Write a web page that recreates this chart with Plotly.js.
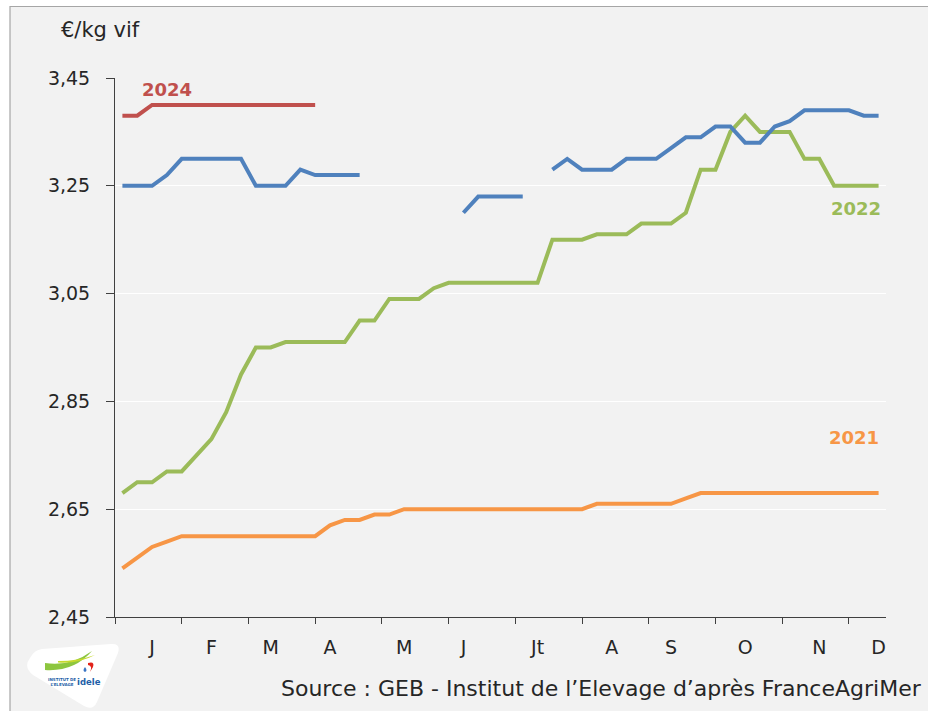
<!DOCTYPE html>
<html>
<head>
<meta charset="utf-8">
<script src="https://cdn.plot.ly/plotly-3.0.1.min.js"></script>
<style>
  html, body { margin: 0; padding: 0; background: #ffffff; }
  #chart { width: 928px; height: 711px; }
</style>
</head>
<body>
<div id="chart"></div>
<script>
// ---- data ----
const weeks = [1,2,3,4,5,6,7,8,9,10,11,12,13,14,15,16,17,18,19,20,21,22,23,24,25,26,
               27,28,29,30,31,32,33,34,35,36,37,38,39,40,41,42,43,44,45,46,47,48,49,50,51,52];

const price2021 = [2.54,2.56,2.58,2.59,2.60,2.60,2.60,2.60,2.60,2.60,2.60,2.60,2.60,2.60,
                   2.62,2.63,2.63,2.64,2.64,2.65,2.65,2.65,2.65,2.65,2.65,2.65,2.65,2.65,
                   2.65,2.65,2.65,2.65,2.66,2.66,2.66,2.66,2.66,2.66,2.67,2.68,2.68,2.68,
                   2.68,2.68,2.68,2.68,2.68,2.68,2.68,2.68,2.68,2.68];

const price2022 = [2.68,2.70,2.70,2.72,2.72,2.75,2.78,2.83,2.90,2.95,2.95,2.96,2.96,2.96,
                   2.96,2.96,3.00,3.00,3.04,3.04,3.04,3.06,3.07,3.07,3.07,3.07,3.07,3.07,
                   3.07,3.15,3.15,3.15,3.16,3.16,3.16,3.18,3.18,3.18,3.20,3.28,3.28,3.35,
                   3.38,3.35,3.35,3.35,3.30,3.30,3.25,3.25,3.25,3.25];

const price2023 = [3.25,3.25,3.25,3.27,3.30,3.30,3.30,3.30,3.30,3.25,3.25,3.25,3.28,3.27,
                   3.27,3.27,3.27,null,null,null,null,null,null,3.20,3.23,3.23,3.23,3.23,
                   null,3.28,3.30,3.28,3.28,3.28,3.30,3.30,3.30,3.32,3.34,3.34,3.36,3.36,
                   3.33,3.33,3.36,3.37,3.39,3.39,3.39,3.39,3.38,3.38];

const price2024 = [3.38,3.38,3.40,3.40,3.40,3.40,3.40,3.40,3.40,3.40,3.40,3.40,3.40,3.40];

const monthLabels = ['J','F','M','A','M','J','Jt','A','S','O','N','D'];
const monthPos    = [3,7,11,15,20,24,29,34,38,43,48,52];
const tickPos     = [0.5,5,9.5,14,18.5,23,27.5,32,36.5,41,45.5,50];

const yTicks = [2.45,2.65,2.85,3.05,3.25,3.45];

const colors = { y2021:'#f79646', y2022:'#9bbb59', y2023:'#4f81bd', y2024:'#c0504d' };

// ---- helpers for decoration placement (pixel -> paper) ----
const L = 115, R = 42, T = 78, B = 94, W = 928, H = 711;
const pw = W - L - R, ph = H - T - B;
const px = x => (x - L) / pw;
const py = y => (H - B - y) / ph;
function path(cmds) {
  return cmds.map(c => {
    if (typeof c === 'string') return c;
    return px(c[0]).toFixed(5) + ',' + py(c[1]).toFixed(5);
  }).join(' ');
}

const lineW = 4;
function mk(y, x, col, name) {
  return { x: x, y: y, type: 'scatter', mode: 'lines', name: name,
           line: { color: col, width: lineW }, connectgaps: false, hoverinfo: 'skip' };
}
const traces = [
  mk(price2021, weeks, colors.y2021, '2021'),
  mk(price2022, weeks, colors.y2022, '2022'),
  mk(price2023, weeks, colors.y2023, '2023'),
  mk(price2024, weeks.slice(0, price2024.length), colors.y2024, '2024')
];

const font = 'DejaVu Sans, sans-serif';
const axisCol = '#404040';

const layout = {
  width: W, height: H,
  margin: { l: L, r: R, t: T, b: B, pad: 0 },
  paper_bgcolor: '#ffffff',
  plot_bgcolor: '#f2f2f2',
  separators: ', ',
  showlegend: false,
  font: { family: font, size: 19, color: '#262626' },
  xaxis: {
    range: [0.5, 52.5], fixedrange: true,
    tickmode: 'array', tickvals: monthPos, ticktext: monthLabels,
    ticks: '', showgrid: false, zeroline: false,
    showline: true, linecolor: axisCol, linewidth: 1,
    ticklabelstandoff: 13,
    tickfont: { family: font, size: 19, color: '#262626' },
    minor: { tickmode: 'array', tickvals: tickPos, ticks: 'outside', ticklen: 6,
             tickwidth: 1, tickcolor: axisCol, showgrid: false }
  },
  yaxis: {
    range: [2.45, 3.45], fixedrange: true,
    tickmode: 'array', tickvals: yTicks, tickformat: '.2f',
    ticks: 'outside', ticklen: 8, tickwidth: 1, tickcolor: axisCol,
    showline: true, linecolor: axisCol, linewidth: 1,
    showgrid: true, gridcolor: '#ffffff', gridwidth: 1, zeroline: false,
    ticklabelstandoff: 12,
    tickfont: { family: font, size: 19, color: '#262626' }
  },
  shapes: [
    { type: 'rect', xref: 'paper', yref: 'paper', layer: 'below',
      x0: px(10), x1: px(960), y0: py(740), y1: py(6.5),
      fillcolor: '#f2f2f2', line: { color: '#a6a6a6', width: 1.2 } },
    // logo: white badge
    { type: 'path', xref: 'paper', yref: 'paper', layer: 'above',
      path: path(['M', [30,658], 'Q', [23,667], [33,675], 'L', [84,706], 'Q', [93,711], [97,702],
                  'L', [118,653], 'Q', [121,643], [111,644], 'L', [42,649], 'Q', [34,650], [30,658], 'Z']),
      fillcolor: '#ffffff', line: { width: 0 } },
    // logo: green swoosh
    { type: 'path', xref: 'paper', yref: 'paper', layer: 'above',
      path: path(['M', [45,663], 'Q', [70,667], [92,651], 'Q', [74,672], [45,670], 'Z']),
      fillcolor: '#8dc63f', line: { width: 0 } },
    { type: 'path', xref: 'paper', yref: 'paper', layer: 'above',
      path: path(['M', [58,661], 'Q', [78,661], [95,655], 'Q', [78,664], [58,662.5], 'Z']),
      fillcolor: '#c5d92d', line: { width: 0 } },
    // logo: red mark
    { type: 'path', xref: 'paper', yref: 'paper', layer: 'above',
      path: path(['M', [88,663], 'Q', [95,661], [93,667], 'L', [90,672], 'Q', [93,666], [88,665], 'Z']),
      fillcolor: '#e2231a', line: { width: 0 } },
    // logo: blue drop
    { type: 'path', xref: 'paper', yref: 'paper', layer: 'above',
      path: path(['M', [85,667], 'Q', [82,671], [85,672], 'Q', [88,671], [85,667], 'Z']),
      fillcolor: '#3a75c4', line: { width: 0 } }
  ],
  annotations: [
    { text: '€/kg vif', xref: 'paper', yref: 'paper', x: px(59), y: py(30),
      xanchor: 'left', yanchor: 'middle', showarrow: false,
      font: { family: font, size: 21, color: '#262626' } },
    { text: 'Source : GEB - Institut de l\u2019Elevage d\u2019après FranceAgriMer',
      xref: 'paper', yref: 'paper', x: px(924), y: py(688),
      xanchor: 'right', yanchor: 'middle', showarrow: false,
      font: { family: font, size: 22, color: '#262626' } },
    { text: '<b>2024</b>', xref: 'x', yref: 'y', x: 4, y: 3.428, showarrow: false,
      xanchor: 'center', yanchor: 'middle', font: { family: font, size: 18, color: colors.y2024 } },
    { text: '<b>2023</b>', xref: 'x', yref: 'y', x: 49.9, y: 3.469, showarrow: false,
      xanchor: 'center', yanchor: 'middle', font: { family: font, size: 18, color: colors.y2023 } },
    { text: '<b>2022</b>', xref: 'x', yref: 'y', x: 50.5, y: 3.2075, showarrow: false,
      xanchor: 'center', yanchor: 'middle', font: { family: font, size: 18, color: colors.y2022 } },
    { text: '<b>2021</b>', xref: 'x', yref: 'y', x: 50.35, y: 2.783, showarrow: false,
      xanchor: 'center', yanchor: 'middle', font: { family: font, size: 18, color: colors.y2021 } },
    // logo texts
    { text: '<b>idele</b>', xref: 'paper', yref: 'paper', x: px(89), y: py(682),
      xanchor: 'center', yanchor: 'middle', showarrow: false,
      font: { family: font, size: 8.5, color: '#1f5fa8' } },
    { text: '<b>INSTITUT DE<br>L\u2019ELEVAGE</b>', xref: 'paper', yref: 'paper', x: px(62), y: py(682),
      xanchor: 'center', yanchor: 'middle', showarrow: false,
      font: { family: font, size: 4, color: '#1f5fa8' } }
  ]
};

Plotly.newPlot('chart', traces, layout, { staticPlot: true, displayModeBar: false });
</script>
</body>
</html>
